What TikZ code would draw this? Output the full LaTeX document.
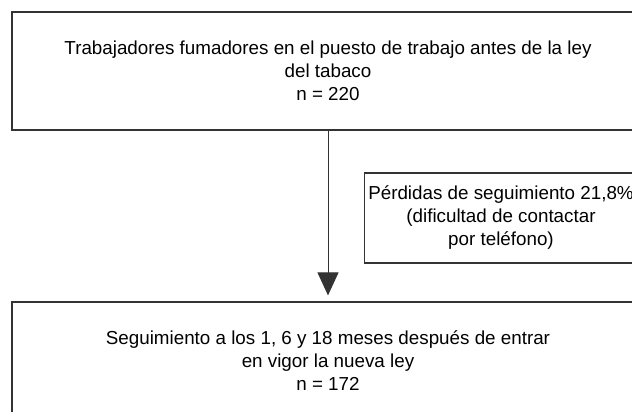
\documentclass[tikz,border=0pt]{standalone}
\usepackage{fontspec}
\setmainfont{Liberation Sans}
\usetikzlibrary{arrows.meta}
\colorlet{boxline}{black!80}

\begin{document}
\begin{tikzpicture}[x=1pt,y=-1pt,>={Triangle[length=23pt,width=21pt]},
                    node distance=290pt]
    \tikzset{box/.style={draw=boxline,line width=1.2pt,rectangle,align=center,
        inner sep=0pt,font=\fontsize{18.8}{23}\selectfont}}
    \useasboundingbox (0,0) rectangle (632,412);
    \clip (0,0) rectangle (632,412);
    \node[box,minimum width=632pt,minimum height=118pt] (0) at (328,71)
        {Trabajadores fumadores en el puesto de trabajo antes de la ley\\
         del tabaco\\ n = 220};
    \node[box,minimum width=632pt,minimum height=118pt] (1) [below of=0]
        {Seguimiento a los 1, 6 y 18 meses después de entrar\\
         en vigor la nueva ley\\ n = 172};
    \node[box,minimum width=273pt,minimum height=90pt] (2) at (501,218)
        {Pérdidas de seguimiento 21,8\%\\ (dificultad de contactar\\
         por teléfono)};
    \draw[->,draw=boxline,fill=black,line width=1pt,shorten >=6pt] (0) -- (1);
\end{tikzpicture}
\end{document}
